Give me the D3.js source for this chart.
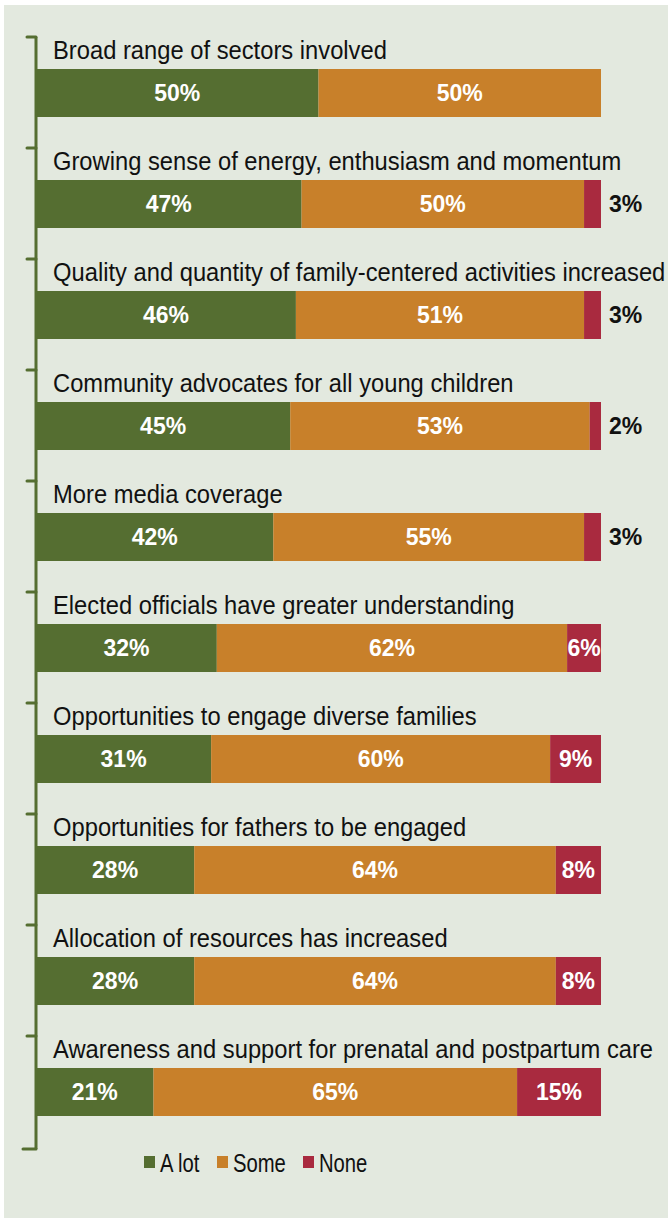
<!DOCTYPE html>
<html>
<head>
<meta charset="utf-8">
<script src="https://cdn.jsdelivr.net/npm/d3@7"></script>
<style>
  body { margin: 0; background: #fff; }
  svg text { font-family: "Liberation Sans", Arial, sans-serif; }
</style>
</head>
<body>
<div id="chart"></div>
<script>
// survey items, top to bottom
const categories = [
  "Broad range of sectors involved",
  "Growing sense of energy, enthusiasm and momentum",
  "Quality and quantity of family-centered activities increased",
  "Community advocates for all young children",
  "More media coverage",
  "Elected officials have greater understanding",
  "Opportunities to engage diverse families",
  "Opportunities for fathers to be engaged",
  "Allocation of resources has increased",
  "Awareness and support for prenatal and postpartum care"
];
const aLot = [50, 47, 46, 45, 42, 32, 31, 28, 28, 21];
const some = [50, 50, 51, 53, 55, 62, 60, 64, 64, 65];
const none = [0, 3, 3, 2, 3, 6, 9, 8, 8, 15];
const seriesNames = ["A lot", "Some", "None"];

const W = 668, H = 1219;
const colors = { "A lot": "#556e31", "Some": "#c8802a", "None": "#a92a3f" };

const svg = d3.select("#chart").append("svg")
    .attr("width", W)
    .attr("height", H);

// panel background
svg.append("rect")
    .attr("x", 4).attr("y", 5)
    .attr("width", W - 4).attr("height", H - 6)
    .attr("fill", "#e3e9df");

const rows = categories.map((c, i) => ({ cat: c, "A lot": aLot[i], "Some": some[i], "None": none[i] }));

// each bar is stretched to the full width (rounded totals can be 101)
var x = d3.scaleLinear().domain([0, 1]).range([36, 601]);
var y = d3.scaleBand().domain(categories).range([37, 1147]);

const stacked = d3.stack().keys(seriesNames).offset(d3.stackOffsetExpand)(rows);

// bars
const layers = svg.selectAll("g.layer")
    .data(stacked)
    .enter().append("g")
    .attr("class", "layer")
    .attr("fill", d => colors[d.key]);

layers.selectAll("rect")
    .data(d => d.filter(s => s[1] - s[0] > 0))
    .enter().append("rect")
    .attr("x", d => x(d[0]))
    .attr("y", d => y(d.data.cat) + 32)
    .attr("width", d => x(d[1]) - x(d[0]))
    .attr("height", 48);

// value labels
stacked.forEach(layer => {
  layer.forEach(s => {
    const v = s.data[layer.key];
    if (v <= 0) return;
    const outside = v < 5;
    svg.append("text")
        .attr("x", outside ? x(s[1]) + 8 : (x(s[0]) + x(s[1])) / 2)
        .attr("y", y(s.data.cat) + 56)
        .attr("dy", "0.35em")
        .attr("text-anchor", outside ? "start" : "middle")
        .attr("fill", outside ? "#111" : "#fff")
        .attr("font-size", 23)
        .attr("font-weight", "bold")
        .text(v + "%");
  });
});

// category labels above bars (slightly condensed)
svg.selectAll("text.cat")
    .data(categories)
    .enter().append("text")
    .attr("class", "cat")
    .attr("transform", d => "translate(53," + (y(d) + 22) + ") scale(0.95,1)")
    .attr("font-size", 25)
    .attr("fill", "#111")
    .text(d => d);

// left axis with ticks at category boundaries
const axisColor = "#556e31";
svg.append("line")
    .attr("x1", 36).attr("x2", 36)
    .attr("y1", 37).attr("y2", 1149)
    .attr("stroke", axisColor).attr("stroke-width", 3);
const bounds = categories.map(c => y(c)).concat([y.range()[1] + 2]);
svg.selectAll("line.tick")
    .data(bounds)
    .enter().append("line")
    .attr("class", "tick")
    .attr("x1", (d, i) => i === bounds.length - 1 ? 23 : 27).attr("x2", 36)
    .attr("y1", d => d).attr("y2", d => d)
    .attr("stroke", axisColor).attr("stroke-width", 3)
    .attr("stroke-linecap", "round");

// legend
const legendX = [144, 217, 303];
const legend = svg.selectAll("g.legend")
    .data(seriesNames)
    .enter().append("g")
    .attr("class", "legend")
    .attr("transform", (d, i) => "translate(" + legendX[i] + ",1156)");
legend.append("rect")
    .attr("width", 11).attr("height", 12)
    .attr("fill", d => colors[d]);
legend.append("text")
    .attr("transform", "translate(16,16) scale(0.81,1)")
    .attr("font-size", 25)
    .attr("fill", "#111")
    .text(d => d);
</script>
</body>
</html>
